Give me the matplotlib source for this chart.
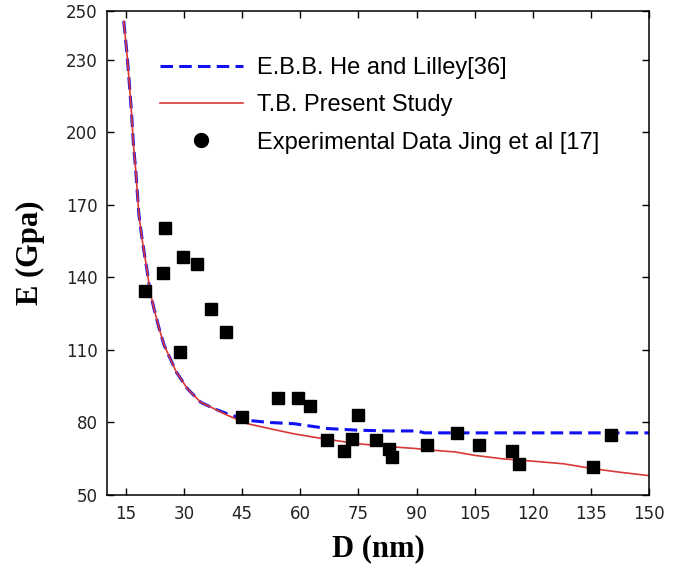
import numpy as np
import matplotlib.pyplot as plt
from matplotlib.lines import Line2D

plt.rcParams['lines.scale_dashes'] = False

# кривые
D_curve = [14.5, 15.3, 15.9, 16.5, 17.0, 17.6, 18.4, 19.3, 20.4, 21.3, 22.3, 23.6, 24.9, 26.6,
           28.0, 30.9, 34.3, 37.8, 41.2, 46.4, 52, 58.4, 67, 75, 83, 90, 92, 100, 105, 112,
           120, 128, 135, 142, 150]
E_ebb = [246, 233, 221, 208, 195, 184, 166, 155, 144, 134, 127, 119, 112, 106,
         101, 94, 88.4, 85.7, 83.6, 80.9, 80.0, 79.5, 77.5, 76.8, 76.5, 76.5, 75.7, 75.7, 75.7, 75.7,
         75.7, 75.7, 75.7, 75.7, 75.7]
E_tb = [246, 233, 221, 208, 195, 184, 166, 155, 144, 134, 127, 119, 112, 106,
        101, 94, 88.4, 85.7, 83.0, 79.5, 77.5, 75.3, 73.0, 71.2, 70.0, 69.2, 68.8, 67.8, 66.4, 65.0,
        64.0, 62.9, 61.0, 59.5, 58.0]

# экспериментальные точки
D_exp = [20.0, 24.5, 25.1, 29.1, 29.7, 33.3, 36.9, 40.8, 45.1, 54.2, 59.5, 62.6, 66.8, 71.4,
         73.3, 75.0, 79.5, 82.9, 83.6, 92.8, 100.3, 106.0, 114.7, 116.3, 135.4, 140.0]
E_exp = [134.5, 141.9, 160.3, 109.3, 148.3, 145.4, 126.9, 117.5, 82.4, 90.3, 90.3, 86.7, 72.9, 68.2,
         73.3, 83.3, 72.9, 69.2, 65.7, 70.6, 75.7, 70.6, 68.2, 63.0, 61.6, 74.8]

xticks = [15, 30, 45, 60, 75, 90, 105, 120, 135, 150]
yticks = [50, 80, 110, 140, 170, 200, 230, 250]

fig = plt.figure(figsize=(6.85, 5.68), dpi=100)
ax = fig.add_axes([0.1566, 0.1285, 0.7913, 0.8513])

ax.plot(D_curve, E_ebb, color='#1010f0', lw=2.2, dashes=(9, 4.5))
ax.plot(D_curve, E_tb, color='#d83838', lw=1.2)
ax.plot(D_exp, E_exp, 's', color='black', ms=9)

ax.set_xlim(10.25, 150)
ax.set_ylim(50, 250)
ax.set_xticks(xticks)
ax.set_yticks(yticks)
ax.tick_params(direction='in', top=True, right=True, length=5, width=1,
               labelsize=12, pad=7, labelcolor='#222222')
for lab in ax.get_xticklabels() + ax.get_yticklabels():
    lab.set_family('DejaVu Sans')
for sp in ax.spines.values():
    sp.set_linewidth(1.1)

ax.set_xlabel('D (nm)', family='Liberation Serif', weight='bold', fontsize=22, labelpad=8)
ax.set_ylabel('E (Gpa)', family='Liberation Serif', weight='bold', fontsize=22, labelpad=15)

handles = [Line2D([], [], color='#1010f0', lw=2.2, dashes=(9, 4.5)),
           Line2D([], [], color='#d83838', lw=1.2),
           Line2D([], [], ls='none', marker='o', color='black', ms=10)]
labels = ['E.B.B. He and Lilley[36]', 'T.B. Present Study', 'Experimental Data Jing et al [17]']
ax.legend(handles, labels, loc='upper left', bbox_to_anchor=(160 / 685, 1 - 57 / 568),
          bbox_transform=fig.transFigure, frameon=False, borderpad=0, borderaxespad=0,
          handlelength=3.5, handletextpad=0.6, labelspacing=0.65,
          prop={'family': 'Liberation Sans', 'size': 17})

fig.savefig('out.png', dpi=100)
